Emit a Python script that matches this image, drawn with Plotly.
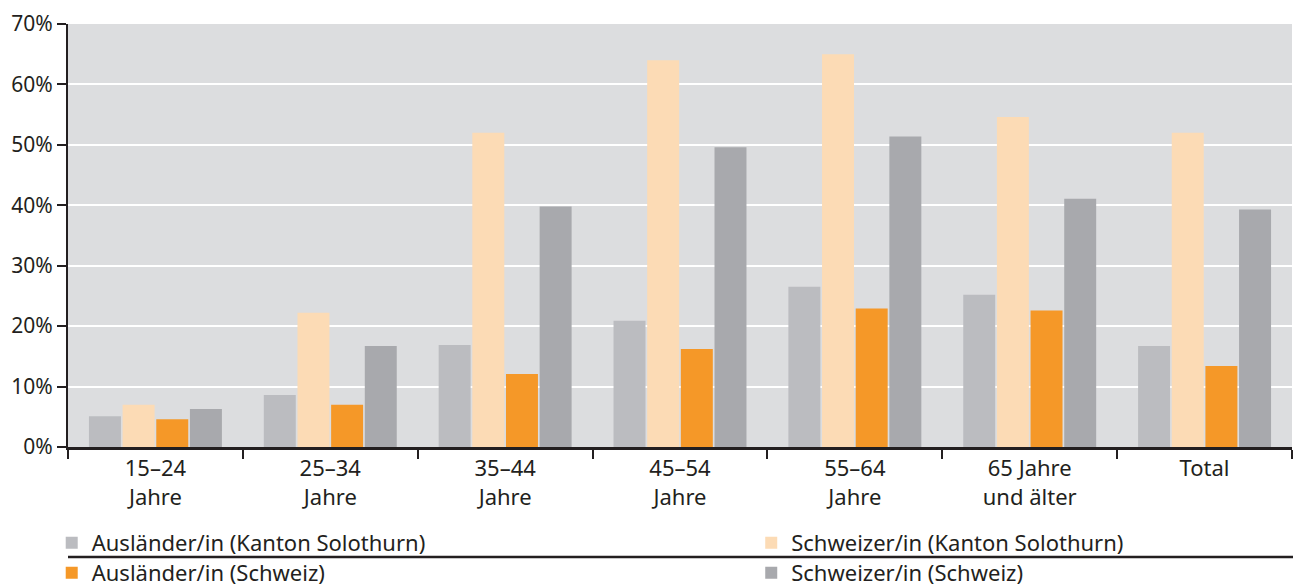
import plotly.graph_objects as go

# Age groups (x categories)
categories = [
    "15–24<br>Jahre",
    "25–34<br>Jahre",
    "35–44<br>Jahre",
    "45–54<br>Jahre",
    "55–64<br>Jahre",
    "65 Jahre<br>und älter",
    "Total",
]

# Shares in percent per series
auslaender_so = [5.1, 8.6, 16.9, 20.9, 26.5, 25.2, 16.7]
schweizer_so = [7.0, 22.2, 52.0, 64.0, 65.0, 54.6, 52.0]
auslaender_ch = [4.6, 7.0, 12.1, 16.2, 22.9, 22.6, 13.4]
schweizer_ch = [6.3, 16.7, 39.8, 49.6, 51.4, 41.1, 39.3]

# y-axis ticks
y_ticks = [0, 10, 20, 30, 40, 50, 60, 70]
y_tick_labels = [f"{v}%" for v in y_ticks]

series = [
    ("Ausländer/in (Kanton Solothurn)", auslaender_so, "#bbbcc0"),
    ("Schweizer/in (Kanton Solothurn)", schweizer_so, "#fcdbb5"),
    ("Ausländer/in (Schweiz)", auslaender_ch, "#f59828"),
    ("Schweizer/in (Schweiz)", schweizer_ch, "#a8a9ad"),
]

FONT = "Noto Sans"
TEXT = "#231f20"

# one legend box per entry: two columns, two rows
legend_ids = ["legend", "legend2", "legend3", "legend4"]
legend_pos = [(0.040, 0.075), (0.581, 0.075), (0.040, 0.024), (0.581, 0.024)]

fig = go.Figure()
for (name, vals, color), lid in zip(series, legend_ids):
    fig.add_trace(go.Bar(
        x=categories, y=vals, name=name,
        marker=dict(color=color, line=dict(width=0)),
        legend=lid,
    ))

legend_common = dict(
    xref="container", yref="container",
    xanchor="left", yanchor="middle",
    orientation="h",
    font=dict(size=22, color=TEXT, family=FONT),
    itemclick=False, itemdoubleclick=False,
    bgcolor="rgba(0,0,0,0)", borderwidth=0,
    itemwidth=30,
)
legend_layout = {
    lid: dict(x=px, y=py, **legend_common)
    for lid, (px, py) in zip(legend_ids, legend_pos)
}

fig.update_layout(
    width=1293, height=587,
    margin=dict(l=68, r=1, t=24, b=140, autoexpand=False),
    paper_bgcolor="white",
    plot_bgcolor="#dcdddf",
    barmode="group",
    bargap=0.23,
    bargroupgap=0.05,
    font=dict(family=FONT, color=TEXT, size=21),
    showlegend=True,
    xaxis=dict(
        type="category",
        tickson="boundaries",
        ticks="outside", ticklen=9, tickwidth=2, tickcolor=TEXT,
        showline=True, linecolor=TEXT, linewidth=3,
        showgrid=False,
        tickfont=dict(size=22, color=TEXT),
        automargin=False,
        fixedrange=True,
    ),
    yaxis=dict(
        range=[0, 70],
        tickmode="array",
        tickvals=y_ticks,
        ticktext=y_tick_labels,
        ticks="outside", ticklen=9, tickwidth=2, tickcolor=TEXT,
        showline=True, linecolor=TEXT, linewidth=2,
        showgrid=True, gridcolor="white", gridwidth=2,
        zeroline=False,
        tickfont=dict(size=21, color=TEXT),
        automargin=False,
        fixedrange=True,
    ),
    shapes=[
        dict(type="line", xref="paper", yref="paper",
             x0=0, x1=1.001, y0=-0.26, y1=-0.26,
             line=dict(color=TEXT, width=2.5)),
    ],
    **legend_layout,
)

fig.write_html("out.html")
